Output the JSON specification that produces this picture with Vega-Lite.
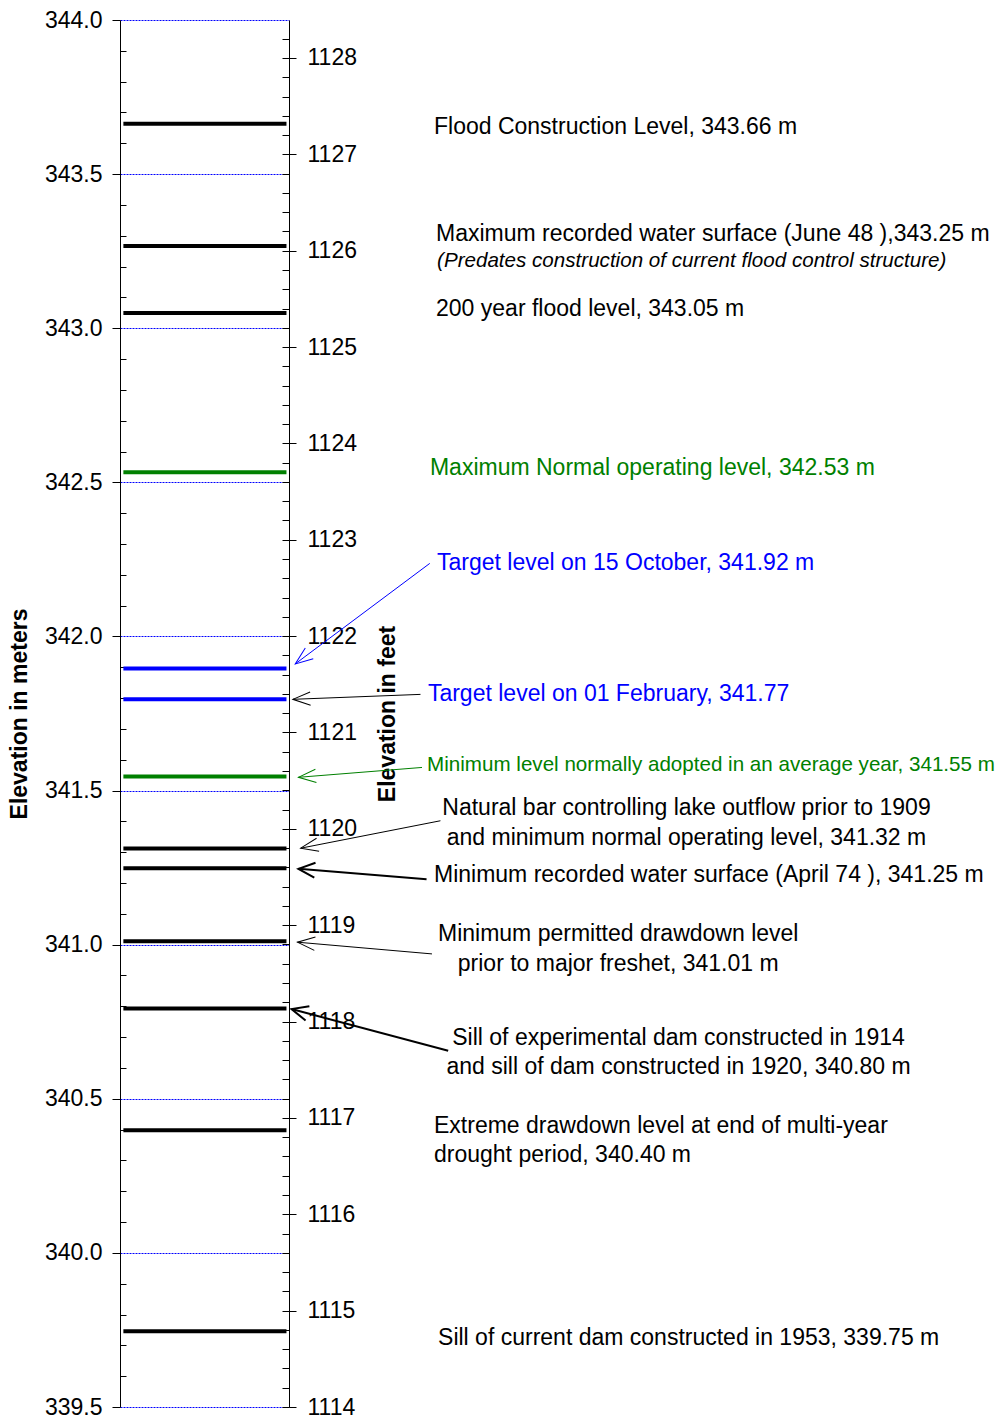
{
  "$schema": "https://vega.github.io/schema/vega-lite/v6.json",
  "width": 169,
  "height": 1387,
  "autosize": "none",
  "padding": {"left": 120, "top": 20, "right": 711, "bottom": 14},
  "background": "white",
  "config": {
    "view": {"stroke": null},
    "font": "Liberation Sans",
    "axis": {"labelFont": "Liberation Sans", "titleFont": "Liberation Sans"}
  },
  "datasets": {
    "levels": [
      {"level": "Flood Construction Level", "elev": 343.663, "kind": "reference"},
      {"level": "Maximum recorded water surface (June 48)", "elev": 343.267, "kind": "reference"},
      {"level": "200 year flood level", "elev": 343.049, "kind": "reference"},
      {"level": "Maximum Normal operating level", "elev": 342.533, "kind": "operating"},
      {"level": "Target level on 15 October", "elev": 341.896, "kind": "target"},
      {"level": "Target level on 01 February", "elev": 341.796, "kind": "target"},
      {"level": "Minimum level normally adopted in an average year", "elev": 341.546, "kind": "operating"},
      {"level": "Natural bar / minimum normal operating level", "elev": 341.312, "kind": "reference"},
      {"level": "Minimum recorded water surface (April 74)", "elev": 341.248, "kind": "reference"},
      {"level": "Minimum permitted drawdown level", "elev": 341.011, "kind": "reference"},
      {"level": "Sill of experimental dam (1914) / dam (1920)", "elev": 340.793, "kind": "reference"},
      {"level": "Extreme drawdown level", "elev": 340.398, "kind": "reference"},
      {"level": "Sill of current dam (1953)", "elev": 339.746, "kind": "reference"}
    ],
    "notes": [
      {"note": "Flood Construction Level, 343.66 m", "x": 1.858, "y": 343.654, "kind": "reference", "group": "left"},
      {"note": "Maximum recorded water surface (June 48 ),343.25 m", "x": 1.870, "y": 343.306, "kind": "reference", "group": "left"},
      {"note": "(Predates construction of current flood control structure)", "x": 1.876, "y": 343.219, "kind": "reference", "group": "caveat"},
      {"note": "200 year flood level, 343.05 m", "x": 1.870, "y": 343.063, "kind": "reference", "group": "left"},
      {"note": "Maximum Normal operating level, 342.53 m", "x": 1.834, "y": 342.548, "kind": "operating", "group": "left"},
      {"note": "Target level on 15 October, 341.92 m", "x": 1.876, "y": 342.237, "kind": "target", "group": "left"},
      {"note": "Target level on 01 February, 341.77", "x": 1.822, "y": 341.814, "kind": "target", "group": "left"},
      {"note": "Minimum level normally adopted in an average year, 341.55 m", "x": 1.817, "y": 341.584, "kind": "operating", "group": "small"},
      {"note": "Natural bar controlling lake outflow prior to 1909", "x": 3.352, "y": 341.444, "kind": "reference", "group": "center"},
      {"note": "and minimum normal operating level, 341.32 m", "x": 3.352, "y": 341.346, "kind": "reference", "group": "center"},
      {"note": "Minimum recorded water surface (April 74 ), 341.25 m", "x": 1.858, "y": 341.227, "kind": "reference", "group": "left"},
      {"note": "Minimum permitted drawdown level", "x": 2.948, "y": 341.033, "kind": "reference", "group": "center"},
      {"note": "prior to major freshet, 341.01 m", "x": 2.948, "y": 340.938, "kind": "reference", "group": "center"},
      {"note": "Sill of experimental dam constructed in 1914", "x": 3.305, "y": 340.697, "kind": "reference", "group": "center"},
      {"note": "and sill of dam constructed in 1920, 340.80 m", "x": 3.305, "y": 340.604, "kind": "reference", "group": "center"},
      {"note": "Extreme drawdown level at end of multi-year", "x": 1.858, "y": 340.413, "kind": "reference", "group": "left"},
      {"note": "drought period, 340.40 m", "x": 1.858, "y": 340.316, "kind": "reference", "group": "left"},
      {"note": "Sill of current dam constructed in 1953, 339.75 m", "x": 1.882, "y": 339.725, "kind": "reference", "group": "left"}
    ],
    "arrows": [
      {"for": "Target level on 15 October", "kind": "target", "weight": "thin", "x": 1.833, "y": 342.237, "x2": 1.037, "y2": 341.911},
      {"for": "Target level on 01 February", "kind": "reference", "weight": "thin", "x": 1.778, "y": 341.812, "x2": 1.023, "y2": 341.796},
      {"for": "Minimum level normally adopted", "kind": "operating", "weight": "thin", "x": 1.787, "y": 341.575, "x2": 1.056, "y2": 341.543},
      {"for": "Natural bar", "kind": "reference", "weight": "thin", "x": 1.896, "y": 341.402, "x2": 1.069, "y2": 341.313},
      {"for": "Minimum recorded water surface", "kind": "reference", "weight": "thick", "x": 1.814, "y": 341.212, "x2": 1.056, "y2": 341.246},
      {"for": "Minimum permitted drawdown level", "kind": "reference", "weight": "thin", "x": 1.846, "y": 340.970, "x2": 1.050, "y2": 341.008},
      {"for": "Sill of experimental dam", "kind": "reference", "weight": "thick", "x": 1.942, "y": 340.656, "x2": 1.015, "y2": 340.791}
    ]
  },
  "layer": [
    {
      "layer": [
        {
          "data": {"name": "levels"},
          "mark": {"type": "rule", "strokeWidth": 4},
          "encoding": {
            "y": {
              "field": "elev", "type": "quantitative",
              "scale": {"domain": [339.5, 344], "nice": false, "zero": false},
              "axis": {
                "orient": "left",
                "values": [339.5, 340, 340.5, 341, 341.5, 342, 342.5, 343, 343.5, 344],
                "format": ".1f",
                "tickSize": 8, "tickColor": "black", "tickWidth": 1,
                "domain": true, "domainColor": "black", "domainWidth": 1,
                "labelFontSize": 23, "labelColor": "black", "labelPadding": 10, "labelFlush": false, "labelOverlap": false,
                "grid": true, "gridColor": "#0000ff", "gridDash": [2, 1], "gridWidth": 1, "gridOpacity": 1,
                "title": "Elevation in meters", "titleFontSize": 23, "titleFontWeight": "bold", "titleColor": "black", "titlePadding": 13
              }
            },
            "x": {"datum": 0.02, "type": "quantitative", "scale": {"domain": [0, 1], "nice": false, "zero": false}, "axis": null},
            "x2": {"datum": 0.985},
            "color": {"field": "kind", "type": "nominal", "scale": {"domain": ["reference", "operating", "target"], "range": ["#000000", "#008000", "#0000ff"]}, "legend": null}
          }
        },
        {
          "data": {"name": "levels"},
          "mark": {"type": "rule", "opacity": 0},
          "encoding": {
            "y": {
              "field": "elev", "type": "quantitative",
              "scale": {"domain": [339.5, 344], "nice": false, "zero": false},
              "axis": {
                "orient": "left",
                "values": [339.6, 339.7, 339.8, 339.9, 340.1, 340.2, 340.3, 340.4, 340.6, 340.7, 340.8, 340.9, 341.1, 341.2, 341.3, 341.4, 341.6, 341.7, 341.8, 341.9, 342.1, 342.2, 342.3, 342.4, 342.6, 342.7, 342.8, 342.9, 343.1, 343.2, 343.3, 343.4, 343.6, 343.7, 343.8, 343.9],
                "offset": -6, "tickSize": 6, "tickColor": "black", "tickWidth": 1,
                "domain": false, "labels": false, "grid": false, "title": null
              }
            }
          }
        },
        {
          "data": {"name": "notes"},
          "transform": [{"filter": "datum.group == 'left'"}],
          "mark": {"type": "text", "align": "left", "baseline": "middle", "fontSize": 23, "font": "Liberation Sans"},
          "encoding": {
            "x": {"field": "x", "type": "quantitative", "scale": {"domain": [0, 1], "nice": false, "zero": false}, "axis": null},
            "y": {"field": "y", "type": "quantitative", "scale": {"domain": [339.5, 344], "nice": false, "zero": false}, "axis": null},
            "text": {"field": "note"},
            "color": {"field": "kind", "type": "nominal", "legend": null}
          }
        },
        {
          "data": {"name": "notes"},
          "transform": [{"filter": "datum.group == 'center'"}],
          "mark": {"type": "text", "align": "center", "baseline": "middle", "fontSize": 23, "font": "Liberation Sans"},
          "encoding": {
            "x": {"field": "x", "type": "quantitative", "scale": {"domain": [0, 1], "nice": false, "zero": false}, "axis": null},
            "y": {"field": "y", "type": "quantitative", "scale": {"domain": [339.5, 344], "nice": false, "zero": false}, "axis": null},
            "text": {"field": "note"},
            "color": {"field": "kind", "type": "nominal", "legend": null}
          }
        },
        {
          "data": {"name": "notes"},
          "transform": [{"filter": "datum.group == 'small'"}],
          "mark": {"type": "text", "align": "left", "baseline": "middle", "fontSize": 20.6, "font": "Liberation Sans"},
          "encoding": {
            "x": {"field": "x", "type": "quantitative", "scale": {"domain": [0, 1], "nice": false, "zero": false}, "axis": null},
            "y": {"field": "y", "type": "quantitative", "scale": {"domain": [339.5, 344], "nice": false, "zero": false}, "axis": null},
            "text": {"field": "note"},
            "color": {"field": "kind", "type": "nominal", "legend": null}
          }
        },
        {
          "data": {"name": "notes"},
          "transform": [{"filter": "datum.group == 'caveat'"}],
          "mark": {"type": "text", "align": "left", "baseline": "middle", "fontSize": 20.6, "fontStyle": "italic", "font": "Liberation Sans"},
          "encoding": {
            "x": {"field": "x", "type": "quantitative", "scale": {"domain": [0, 1], "nice": false, "zero": false}, "axis": null},
            "y": {"field": "y", "type": "quantitative", "scale": {"domain": [339.5, 344], "nice": false, "zero": false}, "axis": null},
            "text": {"field": "note"},
            "color": {"field": "kind", "type": "nominal", "legend": null}
          }
        },
        {
          "data": {"name": "arrows"},
          "transform": [{"filter": "datum.weight == 'thin'"}],
          "mark": {"type": "rule", "strokeWidth": 1},
          "encoding": {
            "x": {"field": "x", "type": "quantitative", "scale": {"domain": [0, 1], "nice": false, "zero": false}, "axis": null},
            "y": {"field": "y", "type": "quantitative", "scale": {"domain": [339.5, 344], "nice": false, "zero": false}, "axis": null},
            "x2": {"field": "x2"},
            "y2": {"field": "y2"},
            "color": {"field": "kind", "type": "nominal", "legend": null}
          }
        },
        {
          "data": {"name": "arrows"},
          "transform": [{"filter": "datum.weight == 'thick'"}],
          "mark": {"type": "rule", "strokeWidth": 2},
          "encoding": {
            "x": {"field": "x", "type": "quantitative", "scale": {"domain": [0, 1], "nice": false, "zero": false}, "axis": null},
            "y": {"field": "y", "type": "quantitative", "scale": {"domain": [339.5, 344], "nice": false, "zero": false}, "axis": null},
            "x2": {"field": "x2"},
            "y2": {"field": "y2"},
            "color": {"field": "kind", "type": "nominal", "legend": null}
          }
        },
        {
          "data": {"name": "arrows"},
          "transform": [
            {"filter": "datum.weight == 'thin'"},
            {"calculate": "atan2(-(datum.y2 - datum.y) * 308.22, (datum.x2 - datum.x) * 169) * 180 / PI", "as": "heading"}
          ],
          "mark": {"type": "point", "shape": "M -1 -0.38 L 0 0 L -1 0.38", "filled": false, "size": 1225, "strokeWidth": 1, "opacity": 1},
          "encoding": {
            "x": {"field": "x2", "type": "quantitative", "scale": {"domain": [0, 1], "nice": false, "zero": false}, "axis": null},
            "y": {"field": "y2", "type": "quantitative", "scale": {"domain": [339.5, 344], "nice": false, "zero": false}, "axis": null},
            "angle": {"field": "heading", "type": "quantitative", "scale": null},
            "color": {"field": "kind", "type": "nominal", "legend": null}
          }
        },
        {
          "data": {"name": "arrows"},
          "transform": [
            {"filter": "datum.weight == 'thick'"},
            {"calculate": "atan2(-(datum.y2 - datum.y) * 308.22, (datum.x2 - datum.x) * 169) * 180 / PI", "as": "heading"}
          ],
          "mark": {"type": "point", "shape": "M -1 -0.45 L 0 0 L -1 0.45", "filled": false, "size": 1089, "strokeWidth": 2, "opacity": 1},
          "encoding": {
            "x": {"field": "x2", "type": "quantitative", "scale": {"domain": [0, 1], "nice": false, "zero": false}, "axis": null},
            "y": {"field": "y2", "type": "quantitative", "scale": {"domain": [339.5, 344], "nice": false, "zero": false}, "axis": null},
            "angle": {"field": "heading", "type": "quantitative", "scale": null},
            "color": {"field": "kind", "type": "nominal", "legend": null}
          }
        }
      ],
      "resolve": {"axis": {"y": "independent"}}
    },
    {
      "layer": [
        {
          "data": {"name": "levels"},
          "mark": {"type": "rule", "opacity": 0},
          "encoding": {
            "y": {
              "datum": 1120, "type": "quantitative",
              "scale": {"domain": [1114, 1128.394], "nice": false, "zero": false},
              "axis": {
                "orient": "right",
                "values": [1114, 1115, 1116, 1117, 1118, 1119, 1120, 1121, 1122, 1123, 1124, 1125, 1126, 1127, 1128],
                "format": "d",
                "tickSize": 7, "tickColor": "black", "tickWidth": 1,
                "domain": true, "domainColor": "black", "domainWidth": 1,
                "labelFontSize": 23, "labelColor": "black", "labelPadding": 11, "labelFlush": false, "labelOverlap": false,
                "grid": false,
                "title": "Elevation in feet", "titleFontSize": 23, "titleFontWeight": "bold", "titleColor": "black",
                "titleAngle": 270, "titleBaseline": "top", "titlePadding": 20
              }
            }
          }
        },
        {
          "data": {"name": "levels"},
          "mark": {"type": "rule", "opacity": 0},
          "encoding": {
            "y": {
              "datum": 1120, "type": "quantitative",
              "scale": {"domain": [1114, 1128.394], "nice": false, "zero": false},
              "axis": {
                "orient": "right",
                "values": [1114, 1114.2, 1114.4, 1114.6, 1114.8, 1115, 1115.2, 1115.4, 1115.6, 1115.8, 1116, 1116.2, 1116.4, 1116.6, 1116.8, 1117, 1117.2, 1117.4, 1117.6, 1117.8, 1118, 1118.2, 1118.4, 1118.6, 1118.8, 1119, 1119.2, 1119.4, 1119.6, 1119.8, 1120, 1120.2, 1120.4, 1120.6, 1120.8, 1121, 1121.2, 1121.4, 1121.6, 1121.8, 1122, 1122.2, 1122.4, 1122.6, 1122.8, 1123, 1123.2, 1123.4, 1123.6, 1123.8, 1124, 1124.2, 1124.4, 1124.6, 1124.8, 1125, 1125.2, 1125.4, 1125.6, 1125.8, 1126, 1126.2, 1126.4, 1126.6, 1126.8, 1127, 1127.2, 1127.4, 1127.6, 1127.8, 1128, 1128.2],
                "offset": -7, "tickSize": 7, "tickColor": "black", "tickWidth": 1,
                "domain": false, "labels": false, "grid": false, "title": null
              }
            }
          }
        }
      ],
      "resolve": {"axis": {"y": "independent"}}
    }
  ],
  "resolve": {"scale": {"y": "independent"}}
}
